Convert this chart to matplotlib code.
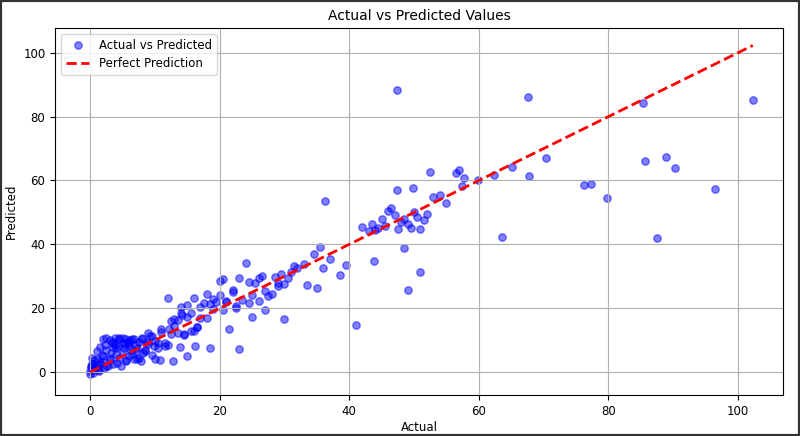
import matplotlib
matplotlib.use("Agg")
import matplotlib.pyplot as plt

plt.rcParams['font.size'] = 8.5

points = [
    (47.4, 88.4), (67.6, 86.3), (102.3, 85.1), (85.3, 84.2), (85.6, 66.2), (88.9, 67.4), (90.3, 63.8),
    (70.4, 67.2), (65.1, 64.2), (67.7, 61.5), (62.3, 61.8), (63.6, 42.4), (87.5, 42.1), (96.5, 57.3),
    (79.8, 54.6), (76.2, 58.5), (77.4, 58.9), (59.9, 60.2), (57.7, 60.8), (57.4, 58.2), (57.0, 63.3),
    (56.5, 62.5), (55.0, 53.0), (54.0, 55.5), (53.0, 54.8), (52.5, 62.8), (52.0, 49.5), (51.5, 47.5),
    (51.0, 44.8), (50.5, 48.5), (50.0, 50.2), (49.5, 45.2), (49.0, 46.5), (48.5, 48.0), (48.0, 47.0),
    (47.5, 44.8), (47.0, 49.3), (46.5, 51.3), (46.0, 50.5), (45.5, 45.6), (45.0, 48.0), (44.5, 45.2),
    (44.0, 44.6), (43.5, 46.3), (43.0, 44.3), (42.0, 45.4), (47.4, 57.0), (49.8, 57.7), (36.3, 53.6),
    (41.0, 14.8), (49.0, 25.8), (51.0, 31.2), (48.5, 38.9), (43.8, 34.8), (39.5, 33.5), (38.5, 30.5),
    (37.0, 35.4), (35.5, 39.2), (35.0, 26.2), (34.5, 37.0), (33.0, 33.8), (32.0, 32.5), (31.0, 31.3),
    (30.5, 29.5), (30.0, 16.5), (29.5, 30.8), (29.0, 27.8), (28.0, 24.5), (27.5, 23.8), (27.0, 25.4),
    (26.5, 30.1), (26.0, 22.3), (25.5, 27.8), (25.0, 24.0), (24.5, 21.5), (24.0, 34.3), (23.5, 22.6),
    (23.0, 7.3), (22.5, 20.1), (22.0, 25.0), (21.5, 13.5), (21.0, 21.8), (20.5, 19.5), (20.0, 28.4),
    (19.5, 22.0), (19.0, 19.8), (18.5, 7.5), (18.0, 17.0), (17.5, 21.5), (17.0, 16.8), (16.5, 14.2),
    (16.0, 13.0), (15.5, 18.5), (15.0, 17.3), (14.5, 11.5), (14.0, 20.5), (13.5, 12.2), (13.0, 14.5),
    (12.5, 11.8), (12.0, 23.2), (11.5, 8.2), (11.0, 12.5), (10.5, 7.5), (10.0, 9.8), (9.5, 11.4),
    (9.0, 8.8), (8.5, 6.5), (8.0, 10.8), (7.5, 4.5), (7.0, 6.5), (6.5, 10.5), (6.0, 9.2), (5.5, 3.5),
    (5.0, 6.2), (4.5, 10.8), (4.0, 5.5), (3.5, 7.8), (3.0, 4.3), (2.5, 10.8), (2.0, 3.2), (1.5, 2.4),
    (1.0, 1.5), (0.5, 0.5), (0.2, 1.8), (0.0, 0.2), (23.0, 29.3), (20.5, 29.0), (30.0, 27.5),
    (22.0, 25.8), (24.5, 28.2), (27.0, 19.5), (18.0, 24.3), (16.0, 23.3), (14.0, 18.5), (12.0, 8.5),
    (15.0, 21.1), (13.0, 16.5), (11.0, 13.5), (9.0, 12.2), (8.0, 10.2), (7.0, 8.5), (6.0, 8.0),
    (5.0, 9.0), (4.0, 7.5), (3.0, 3.8), (2.0, 5.0), (1.0, 4.2), (0.5, 2.5), (10.0, 4.2), (12.5, 16.0),
    (14.5, 12.0), (17.0, 20.5), (19.0, 22.8), (21.0, 22.2), (25.0, 17.2), (28.5, 29.8), (33.5, 27.2),
    (36.0, 32.5), (3.5, 9.5), (2.5, 7.0), (4.5, 10.2), (5.5, 3.8), (6.5, 5.5), (7.5, 9.5), (8.5, 6.8),
    (1.5, 3.2), (0.8, 1.0), (0.3, 2.5), (1.2, 0.5), (2.2, 1.3), (3.2, 6.0), (4.2, 2.8), (5.2, 7.5),
    (6.2, 10.0), (7.2, 4.0), (9.5, 5.2), (11.5, 9.0), (13.5, 16.2), (15.5, 12.8), (20.0, 24.0),
    (22.5, 20.8), (26.0, 29.5), (29.0, 26.8), (31.5, 33.2), (0.1, 1.5), (0.6, 3.8), (1.8, 5.2),
    (2.8, 1.8), (3.8, 8.6), (4.8, 2.0), (5.8, 9.3), (6.8, 4.2), (8.2, 6.0), (9.2, 11.2), (10.5, 9.0),
    (12.2, 13.6), (14.2, 17.8), (16.5, 14.0), (18.5, 21.2),
    (2.0, 10.5), (3.0, 10.0), (3.8, 10.8), (5.0, 10.6), (5.5, 10.2), (6.8, 10.4), (1.5, 7.8),
    (2.3, 8.5), (3.3, 9.0), (4.3, 8.2), (5.3, 8.8), (6.3, 7.0), (7.3, 7.5), (8.8, 9.5), (9.8, 8.0),
    (0.3, 4.5), (1.0, 6.5), (0.0, -0.5), (0.4, -0.2), (1.3, 0.2), (2.5, 2.0), (3.5, 2.5), (4.5, 4.5),
    (6.0, 5.0), (7.8, 3.5), (10.8, 3.8), (12.8, 3.5), (15.0, 5.0), (16.2, 8.0), (13.8, 7.8),
]
actual = [p[0] for p in points]
predicted = [p[1] for p in points]

fig, ax = plt.subplots(figsize=(8, 4.36), dpi=100)
ax.scatter(actual, predicted, s=28, color="blue", alpha=0.5, label="Actual vs Predicted")
lo, hi = min(actual), max(actual)
ax.plot([lo, hi], [lo, hi], "r--", lw=2, label="Perfect Prediction")
ax.set_xlabel("Actual", labelpad=2)
ax.set_ylabel("Predicted")
ax.set_title("Actual vs Predicted Values", fontsize=10)
ax.legend(loc="upper left")
ax.grid(True)
ax.set_xlim(-5.4, 107)
ax.set_ylim(-7.2, 107.8)
fig.subplots_adjust(left=0.069, right=0.979, top=0.936, bottom=0.094)
fig.patches.append(plt.Rectangle((0, 0), 1, 1, transform=fig.transFigure,
                                 fill=False, edgecolor="#333333", linewidth=3))
fig.savefig("out.png")
